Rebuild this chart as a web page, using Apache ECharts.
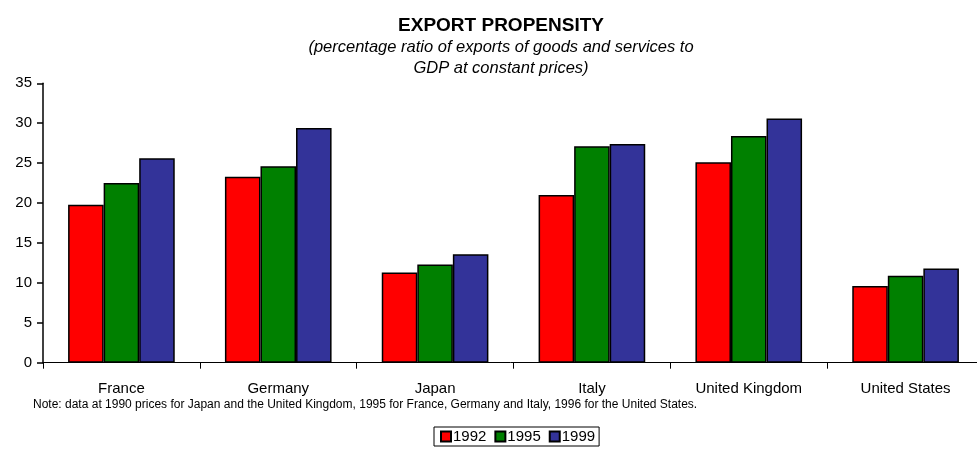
<!DOCTYPE html>
<html>
<head>
<meta charset="utf-8">
<script src="https://cdn.jsdelivr.net/npm/echarts@6/dist/echarts.min.js"></script>
<style>
  html, body { margin: 0; padding: 0; background: #fff; }
  #chart { width: 977px; height: 450px; }
</style>
</head>
<body>
<div id="chart"></div>
<script>
// Export propensity by country, three reference years
const countries = ['France', 'Germany', 'Japan', 'Italy', 'United Kingdom', 'United States'];
const years = ['1992', '1995', '1999'];
const values1992 = [19.8, 23.3, 11.3, 21.0, 25.1, 9.6];
const values1995 = [22.5, 24.6, 12.3, 27.1, 28.4, 10.9];
const values1999 = [25.6, 29.4, 13.6, 27.4, 30.6, 11.8];
const yTicks = [0, 5, 10, 15, 20, 25, 30, 35];
const seriesColors = ['#ff0000', '#008000', '#333399'];

const font = 'Liberation Sans, Arial, sans-serif';
const chart = echarts.init(document.getElementById('chart'), null, { renderer: 'canvas' });

const seriesData = [values1992, values1995, values1999];

chart.setOption({
  animation: false,
  backgroundColor: '#ffffff',
  textStyle: { fontFamily: font },
  title: {
    text: 'EXPORT PROPENSITY',
    subtext: '(percentage ratio of exports of goods and services to\nGDP at constant prices)',
    left: 496,
    textAlign: 'center',
    top: 11,
    itemGap: 2,
    textStyle: { fontFamily: font, fontSize: 19, fontWeight: 'bold', color: '#000' },
    subtextStyle: { fontFamily: font, fontSize: 16.5, fontStyle: 'italic', color: '#000', lineHeight: 21 }
  },
  legend: {
    data: years,
    left: 434,
    top: 427,
    orient: 'horizontal',
    icon: 'rect',
    itemWidth: 10,
    itemHeight: 10,
    itemGap: 8,
    padding: [2, 4, 2, 6],
    borderColor: '#000',
    borderWidth: 1,
    textStyle: { fontFamily: font, fontSize: 15, color: '#000', padding: [0, 0, 0, -3] }
  },
  // the category axis runs a little past the right edge of the canvas
  grid: { left: 43, width: 941, top: 83.3, bottom: 87.3, containLabel: false, outerBoundsMode: 'none' },
  xAxis: {
    type: 'category',
    data: countries,
    axisLine: { show: true, lineStyle: { color: '#000', width: 1 } },
    axisTick: { show: true, length: 6, lineStyle: { color: '#000', width: 1 } },
    axisLabel: { color: '#000', fontFamily: font, fontSize: 15, margin: 19 },
    splitLine: { show: false }
  },
  yAxis: {
    type: 'value',
    min: yTicks[0],
    max: yTicks[yTicks.length - 1],
    interval: yTicks[1] - yTicks[0],
    axisLine: { show: true, lineStyle: { color: '#000', width: 1.5 } },
    axisTick: { show: true, length: 6, lineStyle: { color: '#000', width: 1.5 } },
    axisLabel: { color: '#000', fontFamily: font, fontSize: 15, margin: 11 },
    splitLine: { show: false }
  },
  series: years.map((y, i) => ({
    name: y,
    type: 'bar',
    data: seriesData[i],
    barGap: '0%',
    barCategoryGap: '32%',
    itemStyle: { color: seriesColors[i], borderColor: '#000', borderWidth: 1.5 }
  })),
  graphic: [
    {
      type: 'text',
      left: 33,
      top: 399,
      style: {
        text: 'Note: data at 1990 prices for Japan and the United Kingdom, 1995 for France, Germany and Italy, 1996 for the United States.',
        fontFamily: font,
        fontSize: 12,
        fill: '#000'
      }
    }
  ]
});
</script>
</body>
</html>
